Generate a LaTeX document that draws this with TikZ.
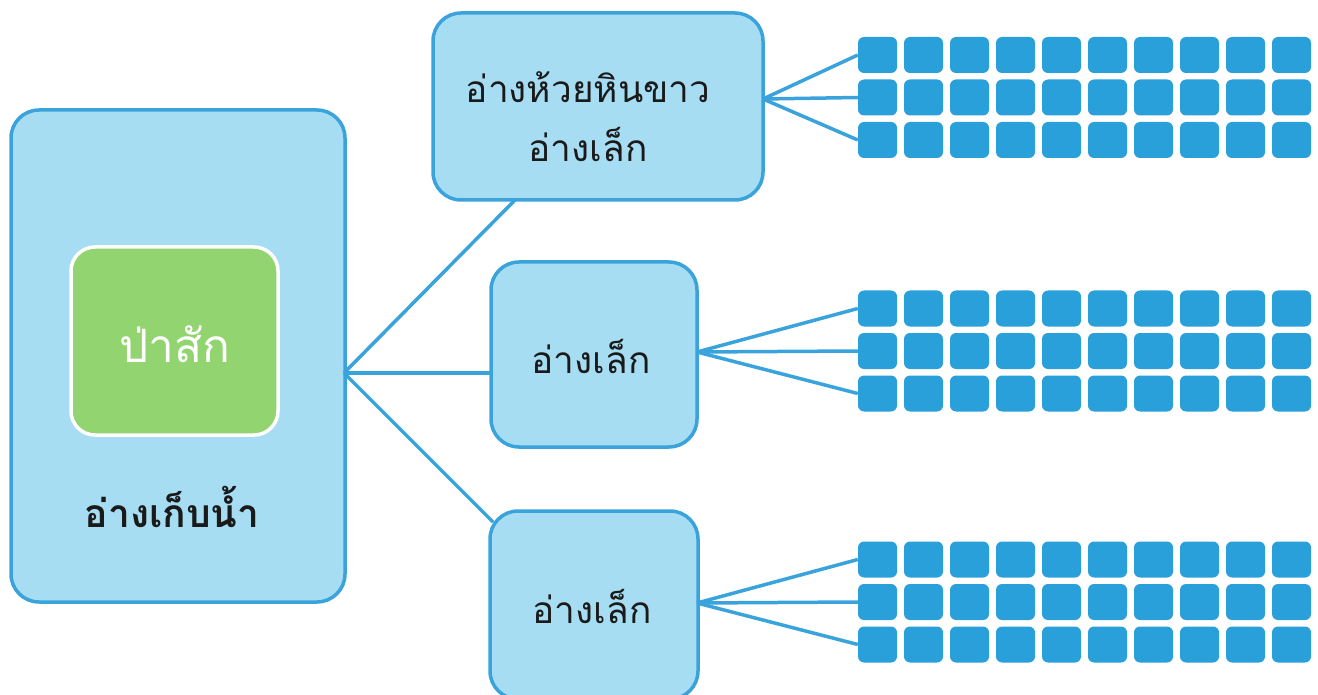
\documentclass[tikz,border=0pt]{standalone}
\usepackage{fontspec}
\newfontfamily\thaifont[Script=Thai]{Loma}
\definecolor{lb}{HTML}{A7DDF3}
\definecolor{bd}{HTML}{3AA3DB}
\definecolor{sq}{HTML}{2AA0DA}
\definecolor{gr}{HTML}{92D46F}
\definecolor{tx}{HTML}{1A1A1A}
\begin{document}
\begin{tikzpicture}[x=1pt,y=-1pt,
  box/.style={draw=bd, line width=3.5pt, fill=lb, rounded corners=28pt, inner sep=0pt},
  greenbox/.style={draw=white, line width=3.5pt, fill=gr, rounded corners=24pt, inner sep=0pt},
  cell/.style={fill=sq, draw=none, rounded corners=6pt, minimum width=39pt, minimum height=36pt, inner sep=0pt},
  conn/.style={draw=bd, line width=3.5pt},
  label/.style={font=\thaifont\fontsize{37}{59}\selectfont, text=tx, align=center},
]
\useasboundingbox (0,0) rectangle (1318,695);
\clip (0,0) rectangle (1318,695);
% boxes
\node[box, minimum width=334pt, minimum height=492pt] (res) at (178,356) {};
\node[greenbox, minimum width=207pt, minimum height=188pt] (teak) at (174.5,341) {};
\node[label, text=white, font=\thaifont\fontsize{46}{50}\selectfont] (teaktxt) at (175,344) {ป่าสัก};
\node[label, font=\thaifont\bfseries\fontsize{39}{44}\selectfont] (restxt) at (172,507) {อ่างเก็บน้ำ};
\node[box, minimum width=330pt, minimum height=187pt] (top) at (598,106.5) {};
\node[label] (toptxt) at (588,117) {อ่างห้วยหินขาว\\อ่างเล็ก};
\node[box, minimum width=206pt, minimum height=185pt] (mid) at (594,354.5) {};
\node[label] (midtxt) at (591,356) {อ่างเล็ก};
\node[box, minimum width=208pt, minimum height=188pt] (bot) at (594,605) {};
\node[label] (bottxt) at (592,606) {อ่างเล็ก};
% grids
\foreach \g/\y in {1/55,2/308.5,3/559.5}{
  \foreach \r in {0,1,2}{
    \foreach \c in {0,...,9}{
      \node[cell] (g\g-\r-\c) at ({877.5+46*\c},{\y+42.5*\r}) {};
    }
  }
}
% connectors
\coordinate (junc) at (344,373);
\coordinate (toptip) at (515,200);
\coordinate (midtip) at (491,373);
\coordinate (bottip) at (493,522);
\draw[conn] (junc) -- (toptip);
\draw[conn] (junc) -- (midtip);
\draw[conn] (junc) -- (bottip);
\coordinate (topfan) at (763,99);
\coordinate (midfan) at (697,352);
\coordinate (botfan) at (697,603);
\foreach \r in {0,1,2}{
  \draw[conn] (topfan) -- (g1-\r-0.west);
  \draw[conn] (midfan) -- (g2-\r-0.west);
  \draw[conn] (botfan) -- (g3-\r-0.west);
}
\end{tikzpicture}
\end{document}
